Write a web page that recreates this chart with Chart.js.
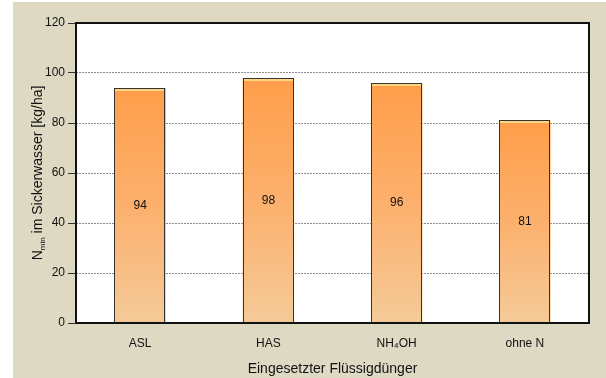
<!DOCTYPE html>
<html>
<head>
  <meta charset="UTF-8" />
  <title>Nmin im Sickerwasser</title>
  <script src="https://cdn.jsdelivr.net/npm/chart.js"></script>
  <style>
    body {
      margin: 0; padding: 0;
      background: #fff;
      font-family: 'Liberation Sans', Arial, sans-serif;
    }
    .box {
      position: absolute;
      left: 13px; top: 2px;
      width: 593px; height: 376px;
      background: #ddd9c3;
    }
  </style>
</head>
<body>
  <div class="box">
    <canvas id="nChart" width="593" height="376"></canvas>
  </div>
  <script>
    const categories = ['ASL', 'HAS', 'NH\u2084OH', 'ohne N'];
    const values = [94, 98, 96, 81];
    const yTicks = [0, 20, 40, 60, 80, 100, 120];
    const xTitle = 'Eingesetzter Flüssigdünger';

    const FONT = "'Liberation Sans', Arial, sans-serif";

    // bar gradient from each bar's top down to the axis
    function barFill(ctx) {
      const chart = ctx.chart;
      const y = chart.scales.y;
      if (!chart.chartArea || !y) return '#fdb06a';
      const top = y.getPixelForValue(ctx.raw);
      const base = y.getPixelForValue(0);
      const g = chart.ctx.createLinearGradient(0, top, 0, base);
      g.addColorStop(0, '#ff9e4a');
      g.addColorStop(0.5, '#fcb06d');
      g.addColorStop(1, '#f5ca98');
      return g;
    }

    const decor = {
      id: 'decor',
      beforeDraw(chart) {
        // white plot area
        const a = chart.chartArea;
        chart.ctx.save();
        chart.ctx.fillStyle = '#fff';
        chart.ctx.fillRect(a.left, a.top, a.right - a.left, a.bottom - a.top);
        chart.ctx.restore();
      },
      afterDatasetsDraw(chart) {
        const c = chart.ctx;
        const meta = chart.getDatasetMeta(0);
        c.save();
        meta.data.forEach((bar, i) => {
          const l = bar.x - bar.width / 2, t = bar.y;
          // outline
          c.strokeStyle = '#333';
          c.lineWidth = 1;
          c.strokeRect(Math.round(l) + 0.5, Math.round(t) + 0.5, Math.round(bar.width) - 1, Math.round(bar.base - t));
          // light rim at the bar top
          c.fillStyle = '#ffd47e';
          c.fillRect(Math.round(l) + 1, Math.round(t) + 1, Math.round(bar.width) - 2, 2);
          // value label in the middle of the bar
          c.fillStyle = '#111';
          c.font = '12px ' + FONT;
          c.textAlign = 'center';
          c.textBaseline = 'middle';
          c.fillText(String(values[i]), bar.x, (bar.y + bar.base) / 2);
        });
        // plot frame
        const a = chart.chartArea;
        c.strokeStyle = '#111';
        c.lineWidth = 2;
        c.strokeRect(a.left, a.top, a.right - a.left, a.bottom - a.top);
        c.restore();
      },
      afterDraw(chart) {
        // y title with subscript
        const c = chart.ctx;
        const a = chart.chartArea;
        c.save();
        c.translate(24, (a.top + a.bottom) / 2);
        c.rotate(-Math.PI / 2);
        c.fillStyle = '#111';
        c.textBaseline = 'alphabetic';
        c.textAlign = 'left';
        const big = '14px ' + FONT, small = '8px ' + FONT;
        const p1 = 'N', p2 = 'min', p3 = ' im Sickerwasser [kg/ha]';
        c.font = big; const w1 = c.measureText(p1).width, w3 = c.measureText(p3).width;
        c.font = small; const w2 = c.measureText(p2).width;
        let x = -(w1 + w2 + w3) / 2;
        const base = 5;
        c.font = big; c.fillText(p1, x, base); x += w1;
        c.font = small; c.fillText(p2, x, base + 3); x += w2;
        c.font = big; c.fillText(p3, x, base);
        c.restore();
      }
    };

    new Chart(document.getElementById('nChart'), {
      type: 'bar',
      data: {
        labels: categories,
        datasets: [{
          data: values,
          backgroundColor: barFill,
          borderWidth: 0,
          categoryPercentage: 1,
          barPercentage: 0.4
        }]
      },
      options: {
        responsive: false,
        animation: false,
        events: [],
        layout: { padding: { top: 21, right: 17, left: 0, bottom: 0 } },
        plugins: { legend: { display: false }, tooltip: { enabled: false } },
        scales: {
          x: {
            grid: { display: false },
            border: { display: false },
            ticks: { color: '#111', font: { family: FONT, size: 12 }, padding: 5, maxRotation: 0 },
            title: {
              display: true, text: xTitle, color: '#111',
              font: { family: FONT, size: 14 }, padding: { top: 0, bottom: 0 }
            },
            afterFit(s) { s.height = 55; }
          },
          y: {
            min: 0, max: 120,
            afterBuildTicks(s) { s.ticks = yTicks.map(v => ({ value: v })); },
            grid: {
              color: '#8c8c8c', lineWidth: 1,
              tickColor: '#333', tickLength: 8, tickWidth: 1
            },
            border: { display: false, dash: [2, 1] },
            ticks: { color: '#111', font: { family: FONT, size: 12 }, padding: 3 },
            afterFit(s) { s.width = 63; }
          }
        }
      },
      plugins: [decor]
    });
  </script>
</body>
</html>
